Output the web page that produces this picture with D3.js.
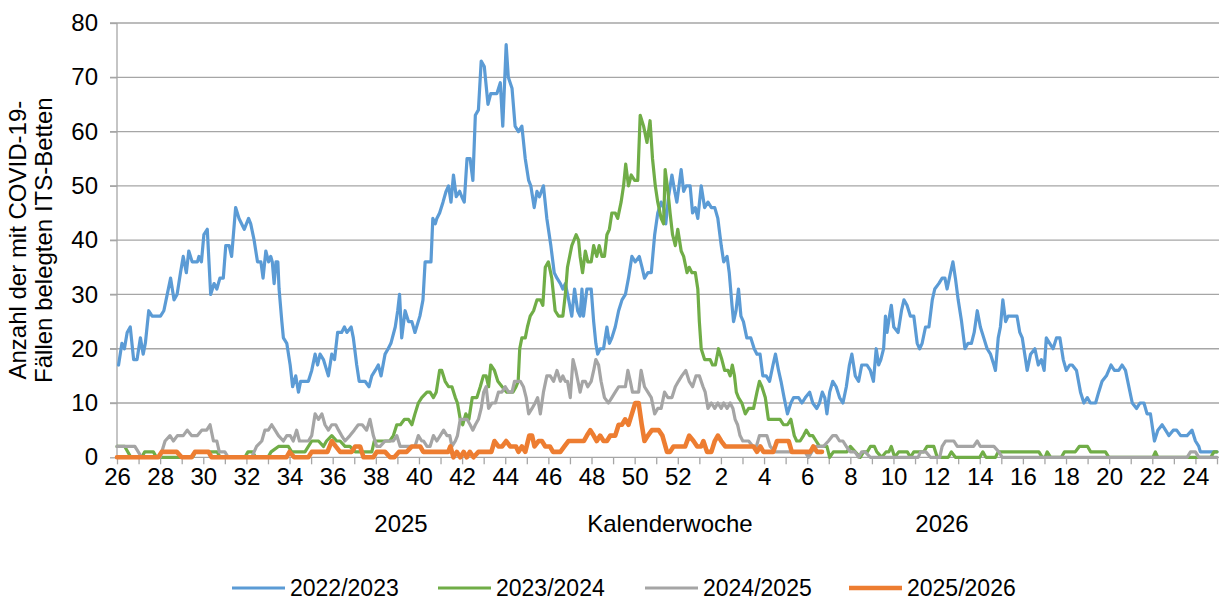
<!DOCTYPE html>
<html lang="de">
<head>
<meta charset="UTF-8">
<title>COVID-19 ITS-Betten nach Kalenderwoche</title>
<script src="https://d3js.org/d3.v7.min.js"></script>
<style>
  body { margin: 0; background: #fff; }
  svg { font-family: "Liberation Sans", Arial, sans-serif; }
  .grid line { stroke: #a6a6a6; stroke-width: 1.3; }
  .axis path, .axis line { stroke: #a6a6a6; stroke-width: 1.3; }
  .series { fill: none; stroke-linejoin: round; stroke-linecap: round; }
</style>
</head>
<body>
<svg id="chart" width="1219" height="601"></svg>
<script>
// Kalenderwochen der Saison (KW26 bis KW25)
const weeks = [26,27,28,29,30,31,32,33,34,35,36,37,38,39,40,41,42,43,44,45,46,47,48,49,50,51,52,
               1,2,3,4,5,6,7,8,9,10,11,12,13,14,15,16,17,18,19,20,21,22,23,24,25];
const yTicks = [0,10,20,30,40,50,60,70,80];
const seriesNames = ["2022/2023","2023/2024","2024/2025","2025/2026"];
const seriesColors = ["#5b9bd5","#70ad47","#a5a5a5","#ed7d31"];

// [Tag seit Beginn KW26, belegte Betten]
const s2022 = [[0.5,17],[1.6,21],[2.4,20],[3.3,23],[4.3,24],[5.4,18],[6.5,18],[7.6,22],[8.5,19],[9.2,21],[10.3,27],[11.4,26],[14.1,26],[15.2,27],[16.3,30],[17.4,33],[18.5,29],[19.5,30],[20.6,34],[21.5,37],[22.5,34],[23.3,38],[24.4,36],[26.1,36],[26.6,37],[27.4,36],[28.2,41],[29.3,42],[30.4,30],[31.5,32],[32.4,31],[33.4,33],[34.5,33],[35.3,39],[36.4,39],[37.2,37],[38.5,46],[39.6,44],[41.3,42],[42.7,44],[43.4,43],[44.5,40],[45.6,36],[46.7,36],[47.4,33],[48.3,38],[49.2,36],[49.9,37],[50.4,36],[51,32],[51.6,36],[52.2,36],[52.6,31],[53.5,25],[54,22],[55.1,21],[56.2,17],[57,13],[58,15],[58.9,12],[59.6,14],[62.1,14],[63.2,16],[64.3,19],[65.1,17],[65.9,19],[67,18],[68.6,15],[69.7,19],[70.6,18],[71.6,23],[72.9,23],[73.8,24],[74.6,23],[76,24],[76.7,22],[77.8,17],[78.6,14],[80.5,14],[81.8,13],[82.7,15],[83.8,16],[84.8,17],[85.7,15],[87,19],[88,20],[88.9,21],[90.3,24],[91.1,27],[91.7,30],[92.4,22],[93.5,27],[94.6,25],[95.7,25],[96.7,23],[98.3,26],[99.3,29],[100,36],[100.8,36],[101.9,36],[102.5,44],[103.3,43],[103.8,44],[104.7,45],[105.8,47],[106.8,49],[107.6,50],[108.4,47],[109.2,52],[110.1,48],[111.2,49],[111.9,48],[112.7,47],[113.6,55],[114.6,55],[115.5,51],[116.3,63],[117.3,64],[118.2,73],[119.2,72],[120.4,65],[121.3,67],[123.3,67],[124.4,69],[125.2,61],[126.3,76],[127,70],[128.2,68],[129.2,61],[130.3,60],[131.4,61],[132.5,55],[133.6,51],[134.3,50],[135.4,46],[136.3,49],[137.1,48],[138.4,50],[139.5,44],[140.8,39],[141.9,34],[142.8,33],[143.9,32],[144.7,31],[145.5,32],[146.6,29],[147.6,26],[148.5,31],[149.5,27],[150.3,26],[150.9,31],[151.4,26],[152.5,31],[153.9,31],[154.7,25],[155.4,21],[156,19],[156.8,20],[157.9,20],[159,24],[159.8,21],[160.6,22],[161.7,24],[162.8,27],[163.9,29],[165,30],[166,33],[167.1,37],[168.2,36],[169.5,37],[170.4,35],[171.2,33],[172.3,34],[173.4,34],[174.5,41],[175.5,45],[176.6,47],[177.4,46],[178.1,43],[179,48],[180.1,52],[181,49],[181.7,47],[183.1,53],[183.9,49],[184.7,50],[186,50],[186.8,45],[187.7,46],[188.5,44],[189.6,50],[190.7,46],[191.8,47],[192.9,46],[194,46],[195,44],[196.1,39],[196.9,36],[198,37],[198.7,34],[199.6,28],[200.1,25],[200.9,27],[201.7,31],[202.5,26],[203.3,25],[204.4,22],[205.7,22],[206.8,20],[207.7,19],[208.7,19],[209.6,15],[210.7,15],[211.8,14],[212.9,17],[213.7,19],[214.7,16],[215.5,14],[216.5,11],[217.6,8],[218.7,10],[219.6,11],[221.2,11],[222.3,10],[223.4,11],[224.8,12],[225.8,10],[227.1,9],[228,10],[228.9,12],[229.7,11],[230.4,8],[231.3,12],[232.3,14],[233.4,13],[234.5,11],[235.6,10],[236.7,13],[237.7,17],[238.5,19],[239.6,15],[240.7,14],[241.7,17],[243.4,17],[244.5,16],[245.5,14],[246.4,20],[247.2,17],[247.9,18],[248.8,20],[249.4,26],[249.9,23],[250.7,26],[251.3,28],[252.1,24],[253.5,23],[254.6,27],[255.4,29],[256.4,28],[257.5,26],[258.6,26],[259.7,21],[260.5,20],[261.3,21],[262.4,24],[263.5,24],[264.6,29],[265.4,31],[266.7,32],[267.8,33],[268.7,33],[269.4,31],[270.5,34],[271.3,36],[272.1,33],[273,29],[274.1,25],[275.2,20],[276.2,21],[277.3,21],[278.2,23],[279.2,27],[280.2,24],[281.3,22],[282.4,20],[283.5,19],[284.6,17],[285.1,16],[286,22],[286.7,24],[287.5,29],[288.4,25],[289.2,26],[290.3,26],[292.1,26],[293,23],[293.8,22],[294.6,19],[295.4,16],[296.5,19],[297.9,20],[299,17],[300,18],[300.9,16],[301.6,22],[302.7,21],[303.8,20],[304.9,22],[306,22],[307.1,18],[308.1,16],[309.2,17],[310,17],[311.4,16],[312.7,12],[313.8,10],[314.9,11],[315.9,10],[317.6,10],[318.6,12],[319.7,14],[321.1,15],[322.6,17],[323.7,16],[325.1,16],[326.2,17],[327.3,16],[328.4,13],[329.5,10],[330.9,9],[332,10],[333.3,10],[334.3,8],[335.4,8],[336.7,3],[337.8,5],[339.2,6],[340.3,5],[341.4,4],[342.8,5],[343.9,5],[345.2,4],[347.3,4],[348.9,5],[350,3],[351.1,2],[351.6,1],[352.7,1],[357,1]];

const s2023 = [[0,2],[2.5,2],[4.5,0],[8,0],[9,1],[11.8,1],[12.8,0],[24.5,0],[25.5,1],[32.5,1],[33.5,0],[41.5,0],[42.5,1],[44,1],[45,0],[49,0],[50,1],[52.4,2],[55.6,2],[56.7,1],[61,1],[63.2,3],[65.4,3],[67,2],[68,3],[69.7,4],[71.3,3],[72.4,3],[74,2],[75.6,2],[77.3,1],[82.7,1],[83.5,3],[85,3],[87,3],[88.5,3],[89.7,4],[90.8,6],[92,6],[93.3,7],[94.6,7],[95.7,6],[96.7,8],[97.8,10],[98.9,11],[100.6,12],[101.6,12],[102.7,11],[103.6,12],[104.7,16],[105.4,16],[106.5,14],[107.6,13],[108.7,13],[109.8,11],[110.5,10],[111.4,7],[112.2,6],[113.2,8],[114.2,7],[115.3,11],[116.8,11],[117.9,13],[118.9,15],[119.8,15],[120.6,13],[121.3,17],[122.5,16],[123.6,14],[125,13],[126.5,12],[128.5,12],[129.5,13],[130.2,14],[130.7,20],[131.4,22],[132.5,22],[133.2,24],[134.1,26],[135.2,27],[136.3,29],[137.4,29],[138.2,28],[139,35],[140,36],[141.1,33],[142.2,27],[143.3,26],[144.7,26],[145.5,30],[146.2,35],[147.6,39],[149,41],[149.8,40],[150.3,37],[151.1,34],[152,38],[152.8,36],[153.9,36],[154.7,39],[155.7,37],[156.5,39],[157.4,37],[158.2,37],[159,41],[159.8,42],[160.6,45],[161.7,45],[162.5,44],[163.6,47],[164.4,50],[165.1,54],[166,50],[166.9,52],[168,51],[169,51],[169.8,63],[170.9,61],[172,58],[173,62],[173.8,55],[174.7,50],[175.5,47],[176.6,44],[177.4,43],[177.9,53],[178.8,49],[179.5,45],[180.3,41],[181.2,39],[182,42],[183.1,38],[183.9,37],[185,34],[185.7,35],[186.6,34],[187.7,34],[188.5,31],[189,25],[189.6,20],[190.7,18],[191.8,18],[192.5,18],[193.3,17],[194.2,17],[195.2,20],[196.3,18],[197.2,16],[198.3,16],[199,15],[199.7,17],[200.4,15],[201,12],[201.7,11],[202.8,10],[203.9,8],[205,9],[206.6,9],[207.7,12],[208.5,14],[209.3,13],[210.4,11],[211.4,7],[212.5,7],[215.2,7],[216.3,6],[217.6,6],[218.7,7],[219.8,4],[220.6,3],[221.7,3],[222.8,4],[223.7,5],[224.8,4],[225.8,4],[226.9,3],[228,2],[230.4,2],[231.3,0],[232.5,1],[235.8,1],[236.9,1],[238,2],[239.6,1],[241.2,0],[242.3,1],[243.5,1],[244.5,2],[245.8,2],[246.6,1],[248.2,0],[249.6,1],[250.5,1],[251.3,2],[252.4,0],[253.7,1],[256.5,1],[257.5,0],[258.6,1],[261.8,1],[262.9,2],[265.1,2],[266.2,0],[269.8,0],[270.8,1],[272.1,0],[280,0],[281,1],[282,0],[285.1,0],[286,1],[299.2,1],[300.3,0],[301.2,0],[301.9,1],[303,0],[306.5,0],[307.5,1],[311,1],[312.3,2],[315,2],[316,1],[320.8,1],[321.9,0],[336.2,0],[337,1],[337.8,0],[355,0],[356,1],[357,1]];

const s2024 = [[0,2],[4.2,2],[5.8,2],[6.9,1],[8,0],[14,0],[15.6,3],[17.2,4],[18.3,3],[19.6,4],[21.5,4],[22.8,5],[24.2,4],[26.1,4],[27.5,5],[29.1,5],[30.2,6],[31.3,3],[32.4,3],[33.2,1],[35,1],[36.1,0],[43.7,0],[45.3,2],[47,3],[48,5],[49.1,5],[50.2,6],[51.3,5],[52.4,4],[54,3],[55.1,4],[56.2,4],[57.2,3],[58.3,5],[59.2,3],[62.1,3],[63.2,4],[64.3,8],[65.4,7],[66.5,8],[67.5,6],[68.6,5],[69.7,6],[71,6],[71.9,5],[72.9,4],[74,3],[75.6,4],[77,5],[78.3,6],[79.6,6],[81,5],[82.1,7],[83.2,4],[84.3,2],[85.4,2],[87,3],[88.6,3],[89.7,3],[90.8,4],[91.9,2],[93,2],[95.1,2],[96.7,2],[97.8,4],[98.9,3],[99.5,3],[100.6,2],[101.6,2],[102.7,4],[103.8,3],[104.9,4],[106,5],[107.1,4],[108,4],[108.7,2],[109.8,3],[110.5,4],[111.4,7],[112.5,7],[113.6,7],[114.6,6],[115.5,5],[116.3,6],[117.3,7],[118.2,9],[119,12],[119.8,13],[120.6,9],[121.7,10],[122.8,10],[123.8,12],[124.9,12],[126,13],[127.1,12],[128.2,12],[129,14],[130,14],[130.9,14],[131.9,13],[132.8,11],[133.6,8],[134.7,9],[135.7,10],[136.5,11],[137.4,8],[138.4,12],[139.5,15],[140.6,15],[141.7,14],[142.8,16],[143.9,14],[144.7,15],[145.5,14],[146.2,14],[147.1,11],[148,18],[148.9,16],[149.6,14],[150.3,12],[151.1,14],[152,14],[152.8,13],[153.9,14],[154.7,16],[155.4,18],[156.3,17],[157.1,14],[158.2,11],[159.5,10],[160.6,11],[161.7,12],[162.8,13],[163.9,13],[165,13],[165.8,16],[166.6,14],[167.3,12],[168.2,12],[169.3,12],[170.1,16],[171.2,13],[172.3,12],[173.4,11],[174.5,8],[175.5,9],[176.6,9],[177.7,12],[178.8,11],[180.1,11],[181.2,13],[182.2,14],[183.3,15],[184.6,16],[185.7,14],[186.8,13],[187.9,15],[189,15],[190.2,13],[190.9,12],[191.8,9],[192.9,10],[194,9],[195,10],[196.1,9],[196.9,10],[198,9],[199,10],[199.9,9],[200.6,7],[201.4,6],[202.2,4],[203.1,3],[205,3],[206.4,2],[207.5,2],[208.5,4],[209.8,4],[210.9,4],[212,2],[213.6,1],[222.3,1],[223.3,1],[224.4,0],[225.5,1],[226.9,2],[229.3,2],[230.9,3],[232.3,4],[233.4,4],[234.5,3],[235.6,3],[236.7,2],[238,1],[239.5,1],[240.7,0],[241.7,1],[242.8,1],[244.5,0],[260,0],[260.8,1],[262.5,1],[264,0],[267,0],[267.8,2],[268.9,3],[270,3],[271.6,3],[272.7,2],[274.3,2],[276.5,2],[278,2],[279.2,3],[280.2,2],[284.6,2],[286.2,1],[287.3,0],[347.3,0],[348.4,1],[350,1],[351.1,0],[357,0]];

const s2025 = [[0,0],[13.4,0],[14.5,1],[19.4,1],[21,0],[24.2,0],[25.3,1],[29.7,1],[30.7,0],[55,0],[56,1],[57.5,0],[62.1,0],[63.2,1],[68.3,1],[69.7,3],[71,2],[72.4,1],[76.2,1],[77.3,2],[78.9,2],[80,0],[83.2,0],[84.3,1],[87,1],[88.6,0],[90,0],[91.5,1],[94,1],[95.7,2],[96.8,2],[98.4,2],[99.4,1],[107.5,1],[108.2,2],[109.2,0],[110.3,1],[111.4,0],[112.5,1],[113.5,0],[114.5,1],[115.7,0],[117.3,1],[121.5,1],[122.5,3],[123.8,2],[125,2],[126.3,3],[127.6,2],[129.5,2],[130.3,1],[131.4,2],[132.5,1],[133.8,4],[134.7,4],[135.5,2],[136.8,3],[137.9,3],[139,2],[140.5,2],[141.5,1],[143.9,1],[145.2,2],[146.5,3],[148.7,3],[151.5,3],[152.5,4],[153.6,5],[154.7,4],[155.7,3],[156.8,4],[157.9,3],[159,3],[160.1,4],[161.7,4],[162.8,6],[163.9,6],[164.9,7],[166,6],[167.1,8],[168.2,10],[169.3,10],[170.3,6],[171.2,3],[172.3,4],[173.6,5],[175.8,5],[177,4],[178.5,1],[179.5,1],[180.6,2],[182.2,2],[184.4,2],[185.7,4],[187.1,3],[188.3,2],[189.6,2],[190.3,3],[191.5,1],[192.9,1],[194,3],[195,4],[196.1,3],[197.4,2],[206.6,2],[207.7,1],[208.8,2],[209.8,1],[213,1],[214.2,3],[218,3],[219,1],[225,1],[226,2],[227.2,1],[228.8,1]];

const seriesData = [s2022, s2023, s2024, s2025];

const svg = d3.select("#chart");
const W = 1219;
const plotLeft = 117, plotRight = 1217, plotTop = 23, plotBottom = 457.3;

const x = d3.scaleLinear().domain([0, 357]).range([plotLeft, plotRight]);
const y = d3.scaleLinear().domain([0, 80]).range([plotBottom, plotTop]);

// Gitternetzlinien
svg.append("g").attr("class", "grid")
  .selectAll("line").data(yTicks.filter(d => d > 0)).enter().append("line")
  .attr("x1", plotLeft - 7).attr("x2", W)
  .attr("y1", d => y(d)).attr("y2", d => y(d));

// Y-Achse
const yAxis = svg.append("g").attr("class", "axis")
  .attr("transform", `translate(${plotLeft},0)`)
  .call(d3.axisLeft(y).tickValues(yTicks).tickSize(7).tickPadding(12));
yAxis.select(".domain").attr("d", `M0,${plotTop}V${plotBottom}`);
yAxis.selectAll("text").style("font-size", "24px").attr("fill", "#000");

// X-Achse: ein Tick je Kalenderwoche, Beschriftung jede zweite Woche
const weekIdx = d3.range(weeks.length);
const xAxis = svg.append("g").attr("class", "axis")
  .attr("transform", `translate(0,${plotBottom})`)
  .call(d3.axisBottom(x).tickValues(weekIdx.map(i => i * 7)).tickSize(7).tickPadding(4)
    .tickFormat((d, i) => i % 2 === 0 ? weeks[i] : ""));
xAxis.select(".domain").attr("d", `M${plotLeft},0H${W}`);
xAxis.selectAll("text").style("font-size", "24px").attr("fill", "#000");

// Achsentitel
const axTitle = svg.append("g").style("font-size", "24px").attr("text-anchor", "middle");
axTitle.append("text").attr("x", 401).attr("y", 532).text("2025");
axTitle.append("text").attr("x", 670).attr("y", 532).text("Kalenderwoche");
axTitle.append("text").attr("x", 942).attr("y", 532).text("2026");

const yTitle = svg.append("text").attr("text-anchor", "middle")
  .style("font-size", "24px")
  .attr("transform", `translate(30,${(plotTop + plotBottom) / 2}) rotate(-90)`);
yTitle.append("tspan").attr("x", 0).attr("dy", "-0.15em").text("Anzahl der mit COVID-19-");
yTitle.append("tspan").attr("x", 0).attr("dy", "1.05em").text("Fällen belegten ITS-Betten");

// Linien
const line = d3.line().x(d => x(d[0])).y(d => y(d[1]));
svg.append("g").selectAll("path").data(seriesData).enter().append("path")
  .attr("class", "series")
  .attr("stroke", (d, i) => seriesColors[i])
  .attr("stroke-width", (d, i) => i === 3 ? 4.6 : 3.2)
  .attr("d", line);

// Legende
const legendX = [232, 438, 645, 849];
const legend = svg.append("g").selectAll("g").data(seriesNames).enter().append("g")
  .attr("transform", (d, i) => `translate(${legendX[i]},588)`);
legend.append("line").attr("x1", 0).attr("x2", 53)
  .attr("stroke", (d, i) => seriesColors[i])
  .attr("stroke-width", (d, i) => i === 3 ? 4.6 : 3.2);
legend.append("text").attr("x", 58).attr("dy", "0.35em")
  .style("font-size", "23px").text(d => d);
</script>
</body>
</html>
